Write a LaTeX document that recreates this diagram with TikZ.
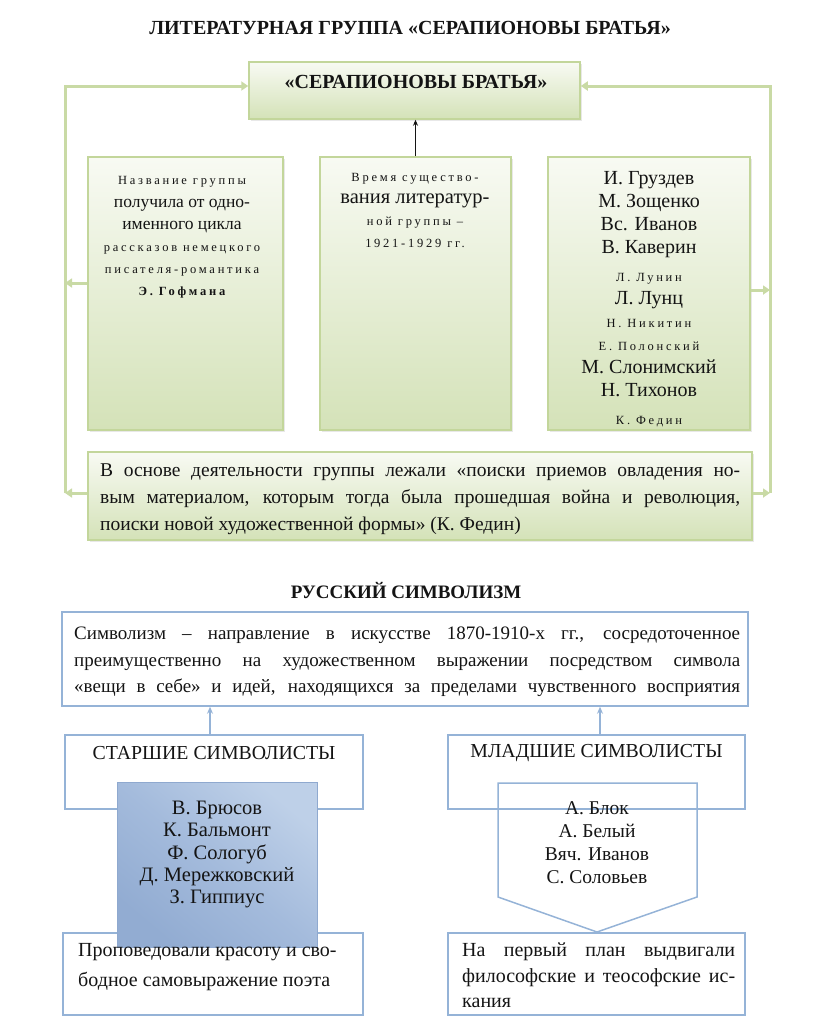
\documentclass[tikz,border=0pt]{standalone}
\usepackage{fontspec}
\setmainfont{Liberation Serif}
\newfontfamily\spc[LetterSpace=22]{Liberation Serif}
\usetikzlibrary{arrows.meta,shadows}
\definecolor{gline}{HTML}{C3D69B}
\definecolor{gbus}{HTML}{C9DAA5}
\definecolor{gtop}{HTML}{F8FAF3}
\definecolor{gbot}{HTML}{D4E2B8}
\definecolor{bline}{HTML}{95B3D7}
\definecolor{blueL}{HTML}{BED0E8}
\definecolor{blueM}{HTML}{A4BBDC}
\definecolor{blueD}{HTML}{92ACD2}
\definecolor{blueE}{HTML}{8FA9CF}
\definecolor{txt}{HTML}{141414}
\newcommand\fs[2]{\fontsize{#1}{#2}\selectfont}
\newcommand\jl[2]{\makebox[#1][s]{#2}}
\newcommand\sm[1]{{\spc\fs{12.5}{22}#1}}
\begin{document}
\begin{tikzpicture}[x=1pt,y=-1pt,
  gbox/.style={draw=gline,line width=1.5pt,top color=gtop,bottom color=gbot,inner sep=0pt,
    drop shadow={opacity=.18,shadow xshift=1.5pt,shadow yshift=-2pt}},
  bbox/.style={draw=bline,line width=1.5pt,fill=white,inner sep=0pt},
  bus/.style={draw=gbus,line width=3pt},
  gtip/.style={-{Triangle[length=7pt,width=9pt,color=gbus]}},
  barrow/.style={draw=bline,line width=1.5pt,-{Stealth[length=7pt,width=6pt]}},
  txtn/.style={inner sep=0pt,text=txt},
  ttl/.style={txtn,font=\bfseries\fs{20}{22}}
]
\useasboundingbox (0,0) rectangle (816,1029);

% ---------- Section 1 ----------
\node[ttl] (t1) at (410,28) {ЛИТЕРАТУРНАЯ ГРУППА «СЕРАПИОНОВЫ БРАТЬЯ»};

\node[gbox,minimum width=331pt,minimum height=57pt] (top) at (414.5,90.5) {};
\node[txtn,font=\bfseries\fs{20}{22}] (topt) at (416,82) {«СЕРАПИОНОВЫ БРАТЬЯ»};

\node[gbox,minimum width=195pt,minimum height=273pt] (c1) at (185.5,293.5) {};
\node[gbox,minimum width=191pt,minimum height=273pt] (c2) at (415.5,293.5) {};
\node[gbox,minimum width=202pt,minimum height=273pt] (c3) at (649,293.5) {};
\node[gbox,minimum width=664pt,minimum height=88pt] (bot) at (420,496) {};

\node[txtn,anchor=north,align=center,font=\fs{17.5}{22.2}] (c1t) at (182,176.5) {%
\sm{Название группы}\\
получила от одно-\\
именного цикла\\
\sm{рассказов немецкого}\\
\sm{писателя-романтика}\\
{\spc\bfseries\fs{12.5}{22}Э. Гофмана}};

\node[txtn,anchor=north,align=center,font=\fs{17}{22}] (c2t) at (415,173.5) {%
\sm{Время существо-}\\
{\fs{20.5}{22}вания литератур-}\\
\sm{ной группы –}\\
\sm{1921-1929 гг.}};

\node[txtn,anchor=north,align=center,font=\fs{20}{23}] (c3t) at (649,171.5) {%
И. Груздев\\
М. Зощенко\\
Вс. Иванов\\
В. Каверин\\[5pt]
\sm{Л. Лунин}\\
Л. Лунц\\
\sm{Н. Никитин}\\
\sm{Е. Полонский}\\
М. Слонимский\\
Н. Тихонов\\[5pt]
\sm{К. Федин}};

\node[txtn,anchor=north west,align=left,font=\fs{19.5}{27}] (bott) at (100,463.5) {%
\jl{640pt}{В основе деятельности группы лежали «поиски приемов овладения но-}\\
\jl{640pt}{вым материалом, которым тогда была прошедшая война и революция,}\\
поиски новой художественной формы» (К. Федин)};

% bus connectors
\coordinate (lt) at (65,86);
\coordinate (lb) at (65,493);
\coordinate (l1) at (65,283);
\coordinate (rt) at (770,86);
\coordinate (rb) at (770,493);
\coordinate (r1) at (770,290);

\draw[bus,gtip] (lb) -- (lt) -- (lt -| top.west);
\draw[bus,gtip] (rb) -- (rt) -- (rt -| top.east);
\draw[bus,gtip] (l1 -| c1.west) -- (l1);
\draw[bus,gtip] (r1 -| c3.east) -- (r1);
\draw[bus,gtip] (lb -| bot.west) -- (lb);
\draw[bus,gtip] (rb -| bot.east) -- (rb);

\draw[line width=1pt,draw=txt,-{Stealth[length=6pt,width=5pt]}] (c2.north) -- (c2.north |- top.south);

% ---------- Section 2 ----------
\node[txtn,font=\bfseries\fs{19}{22}] (t2) at (406,590) {РУССКИЙ СИМВОЛИЗМ};

\node[bbox,minimum width=686pt,minimum height=94pt] (def) at (405,659) {};
\node[txtn,anchor=north west,align=left,font=\fs{19}{26.5}] (deft) at (74,627) {%
\jl{666pt}{Символизм – направление в искусстве 1870-1910-х гг., сосредоточенное}\\
\jl{666pt}{преимущественно на художественном выражении посредством символа}\\
\jl{666pt}{«вещи в себе» и идей, находящихся за пределами чувственного восприятия}};

\node[bbox,minimum width=298pt,minimum height=74pt] (st) at (214,772) {};
\node[txtn,font=\fs{19.8}{22}] (stt) at (214,753) {СТАРШИЕ СИМВОЛИСТЫ};
\node[bbox,minimum width=297pt,minimum height=74pt] (ml) at (596.5,772) {};
\node[txtn,font=\fs{19.8}{22}] (mlt) at (596.5,753) {МЛАДШИЕ СИМВОЛИСТЫ};

\coordinate (a1) at (210,735);
\coordinate (a2) at (600,735);
\draw[barrow] (a1) -- (a1 |- def.south);
\draw[barrow] (a2) -- (a2 |- def.south);

\node[bbox,minimum width=300pt,minimum height=82pt] (bl) at (213,974) {};
\node[bbox,minimum width=297pt,minimum height=82pt] (br) at (596.5,974) {};

\node[draw=blueE,line width=0.6pt,inner sep=0pt,minimum width=200pt,minimum height=165pt,
  top color=blueL,bottom color=blueD,middle color=blueM,shading angle=-40] (blue) at (217,864.5) {};
\node[txtn,anchor=north,align=center,font=\fs{20.5}{22.2}] (bluet) at (217,801) {%
В. Брюсов\\
К. Бальмонт\\
Ф. Сологуб\\
Д. Мережковский\\
З. Гиппиус};

\coordinate (p1) at (498,783);
\coordinate (p2) at (697,783);
\coordinate (p3) at (697,897);
\coordinate (p4) at (597,932);
\coordinate (p5) at (498,897);
\draw[draw=bline,line width=1.5pt,line join=miter] (p1) -- (p2) -- (p3) -- (p4) -- (p5) -- cycle;
\node[txtn,anchor=north,align=center,font=\fs{19.5}{23}] (pt) at (597,801.5) {%
А. Блок\\
А. Белый\\
Вяч. Иванов\\
С. Соловьев};

\node[txtn,anchor=north west,align=left,font=\fs{20}{30}] (blt) at (78,943) {%
Проповедовали красоту и сво-\\
бодное самовыражение поэта};

\node[txtn,anchor=north west,align=left,font=\fs{20}{25.5}] (brt) at (462,943) {%
\jl{273pt}{На первый план выдвигали}\\
\jl{273pt}{философские и теософские ис-}\\
кания};
\end{tikzpicture}
\end{document}
